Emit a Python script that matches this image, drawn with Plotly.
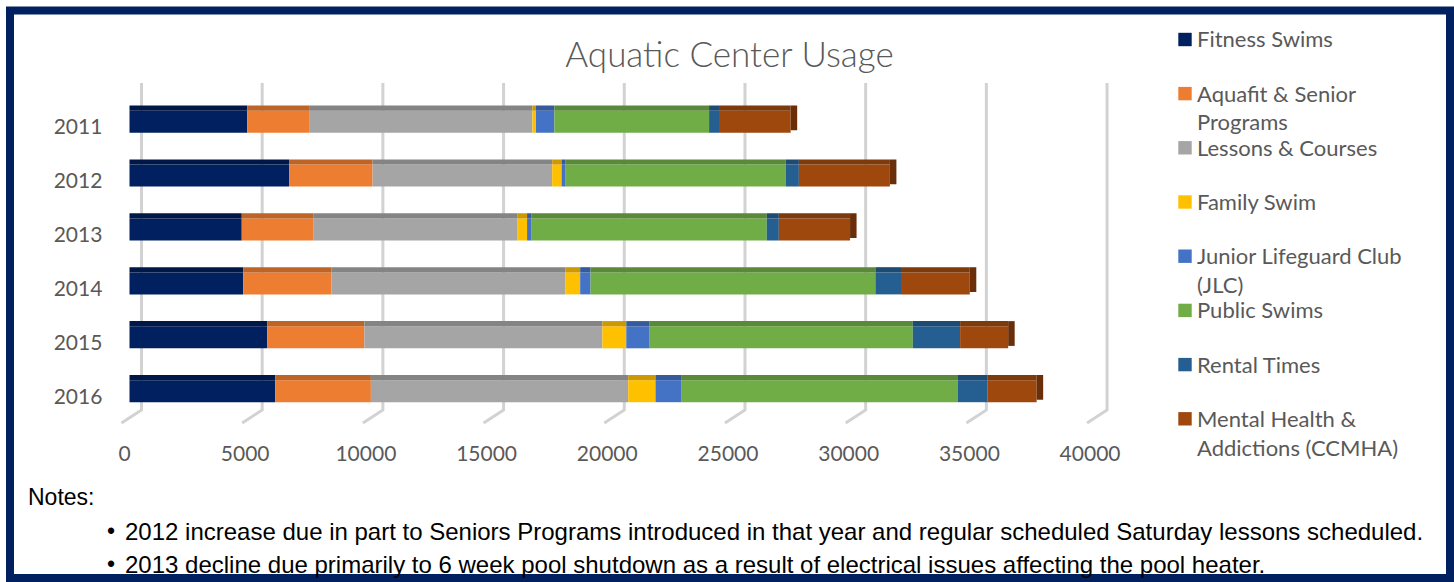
import numpy as np
import plotly.graph_objects as go

W, H = 1454, 582

years = ["2011", "2012", "2013", "2014", "2015", "2016"]
series_names = [
    "Fitness Swims",
    "Aquafit & Senior<br>Programs",
    "Lessons & Courses",
    "Family Swim",
    "Junior Lifeguard Club<br>(JLC)",
    "Public Swims",
    "Rental Times",
    "Mental Health &<br>Addictions (CCMHA)",
]
fitness_swims = [4880, 6610, 4650, 4710, 5710, 6040]
aquafit_senior = [2560, 3460, 2980, 3650, 4020, 3960]
lessons_courses = [9250, 7440, 8450, 9690, 9860, 10660]
family_swim = [150, 390, 390, 620, 990, 1130]
junior_lifeguard = [760, 170, 190, 430, 970, 1060]
public_swims = [6410, 9110, 9740, 11800, 10900, 11470]
rental_times = [450, 550, 500, 1060, 1960, 1220]
mental_health = [2930, 3770, 2950, 2850, 1990, 2040]

series_values = [fitness_swims, aquafit_senior, lessons_courses, family_swim,
                 junior_lifeguard, public_swims, rental_times, mental_health]
colors = ["#002060", "#ED7D31", "#A5A5A5", "#FFC000",
          "#4472C4", "#70AD47", "#255E91", "#9E480E"]
top_colors = ["#001848", "#BE6427", "#848484", "#CC9A00",
              "#365B9D", "#5A8A39", "#1E4B74", "#7E3A0B"]
cap_color = "#6A2F08"

x_ticks = [0, 5000, 10000, 15000, 20000, 25000, 30000, 35000, 40000]
x_tick_text = ["0", "5000", "10000", "15000", "20000", "25000", "30000", "35000", "40000"]

title_text = "Aquatic Center Usage"
notes_title = "Notes:"
notes = [
    "2012 increase due in part to Seniors Programs introduced in that year and regular scheduled Saturday lessons scheduled.",
    "2013 decline due primarily to 6 week pool shutdown as a result of electrical issues affecting the pool heater.",
]


def px(x):
    return x / W


def py(y):
    return 1 - y / H


fig = go.Figure()

vals = np.array(series_values, dtype=float)
bases = np.vstack([np.zeros(len(years)), np.cumsum(vals, axis=0)[:-1]])
totals = vals.sum(axis=0)

# front faces
for name, v, b, c in zip(series_names, vals, bases, colors):
    fig.add_trace(go.Bar(
        y=years, x=v, base=b, orientation="h", name=name.replace("<br>", " "),
        marker=dict(color=c, line=dict(width=0)),
        width=0.408, offset=-0.204, showlegend=False,
    ))
# top faces (3D effect)
for name, v, b, c in zip(series_names, vals, bases, top_colors):
    fig.add_trace(go.Bar(
        y=years, x=v, base=b, orientation="h",
        marker=dict(color=c, line=dict(width=0)),
        width=0.097, offset=-0.301, showlegend=False, hoverinfo="skip",
    ))
# right end caps
fig.add_trace(go.Bar(
    y=years, x=[270] * len(years), base=totals, orientation="h",
    marker=dict(color=cap_color, line=dict(width=0)),
    width=0.46, offset=-0.30, showlegend=False, hoverinfo="skip",
))

shapes = []
# gridlines with 3D floor ticks
for v in x_ticks:
    shapes.append(dict(
        type="path", xref="x", xsizemode="pixel", xanchor=v,
        yref="paper", ysizemode="pixel", yanchor=py(410),
        path="M 12 327 L 12 0 L -8 -13",
        line=dict(color="#D2D2D2", width=3), layer="below",
    ))
# outer border
shapes.append(dict(
    type="rect", xref="paper", yref="paper",
    x0=px(10), x1=px(1450), y0=py(578), y1=py(10.5),
    line=dict(color="#002060", width=8),
))
# legend markers
legend_y = [39.5, 93.6, 147.8, 202, 256.2, 310.4, 364.6, 418.8]
for c, yc in zip(colors, legend_y):
    shapes.append(dict(
        type="rect", xref="paper", yref="paper",
        x0=px(1178.3), x1=px(1191.7), y0=py(yc + 6.7), y1=py(yc - 6.7),
        fillcolor=c, line=dict(width=0),
    ))

annotations = []
for name, yc in zip(series_names, legend_y):
    for k, line in enumerate(name.split("<br>")):
        annotations.append(dict(
            xref="paper", yref="paper", x=px(1195), y=py(yc - 0.5 + k * 28.7),
            xanchor="left", yanchor="middle", showarrow=False, text=line,
            font=dict(family="Lato", size=22, color="#595959"),
        ))

annotations.append(dict(
    xref="paper", yref="paper", x=px(26), y=py(497), xanchor="left", yanchor="middle",
    showarrow=False, text=notes_title,
    font=dict(family="Liberation Sans", size=23, color="#000000"),
))
for k, note in enumerate(notes):
    yc = 531 + k * 33
    annotations.append(dict(
        xref="paper", yref="paper", x=px(111), y=py(yc), xanchor="center", yanchor="middle",
        showarrow=False, text="•",
        font=dict(family="Liberation Sans", size=23, color="#000000"),
    ))
    annotations.append(dict(
        xref="paper", yref="paper", x=px(123), y=py(yc), xanchor="left", yanchor="middle",
        showarrow=False, text=note,
        font=dict(family="Liberation Sans", size=24, color="#000000"),
    ))

# row geometry: category i centred at pixel 121.7 + 53.9*i
row0, row_step = 121.7, 53.9
top_px, bot_px = 83, 423
y_range = [(bot_px - row0) / row_step, (top_px - row0) / row_step]

x_left_px, x_right_px = 105.36, 1119.2
fig.update_layout(
    width=W, height=H,
    margin=dict(l=0, r=0, t=0, b=0, autoexpand=False),
    paper_bgcolor="white", plot_bgcolor="white",
    barmode="overlay",
    showlegend=False,
    title=dict(text=title_text, x=px(729.5), xanchor="center", xref="paper",
               y=py(55), yanchor="middle", yref="container",
               font=dict(family="Lato", size=35, color="#595959", weight=300)),
    xaxis=dict(
        domain=[px(x_left_px), px(x_right_px)], range=[-1000, 41000],
        showgrid=False, zeroline=False, showline=False,
        tickmode="array", tickvals=x_ticks, ticktext=x_tick_text,
        ticks="", ticklabelshift=-5, ticklabelstandoff=16,
        tickfont=dict(family="Lato", size=21, color="#595959"),
    ),
    yaxis=dict(
        domain=[py(bot_px), py(top_px)], range=y_range,
        type="category", categoryorder="array", categoryarray=years,
        showgrid=False, zeroline=False, showline=False, ticks="",
        ticklabelshift=-5, ticklabelstandoff=2,
        tickfont=dict(family="Lato", size=21, color="#595959"),
    ),
    shapes=shapes,
    annotations=annotations,
)

fig.write_html(
    "out.html",
    config={"displayModeBar": False},
    post_script="document.body.style.margin='0';document.body.style.padding='0';",
)
